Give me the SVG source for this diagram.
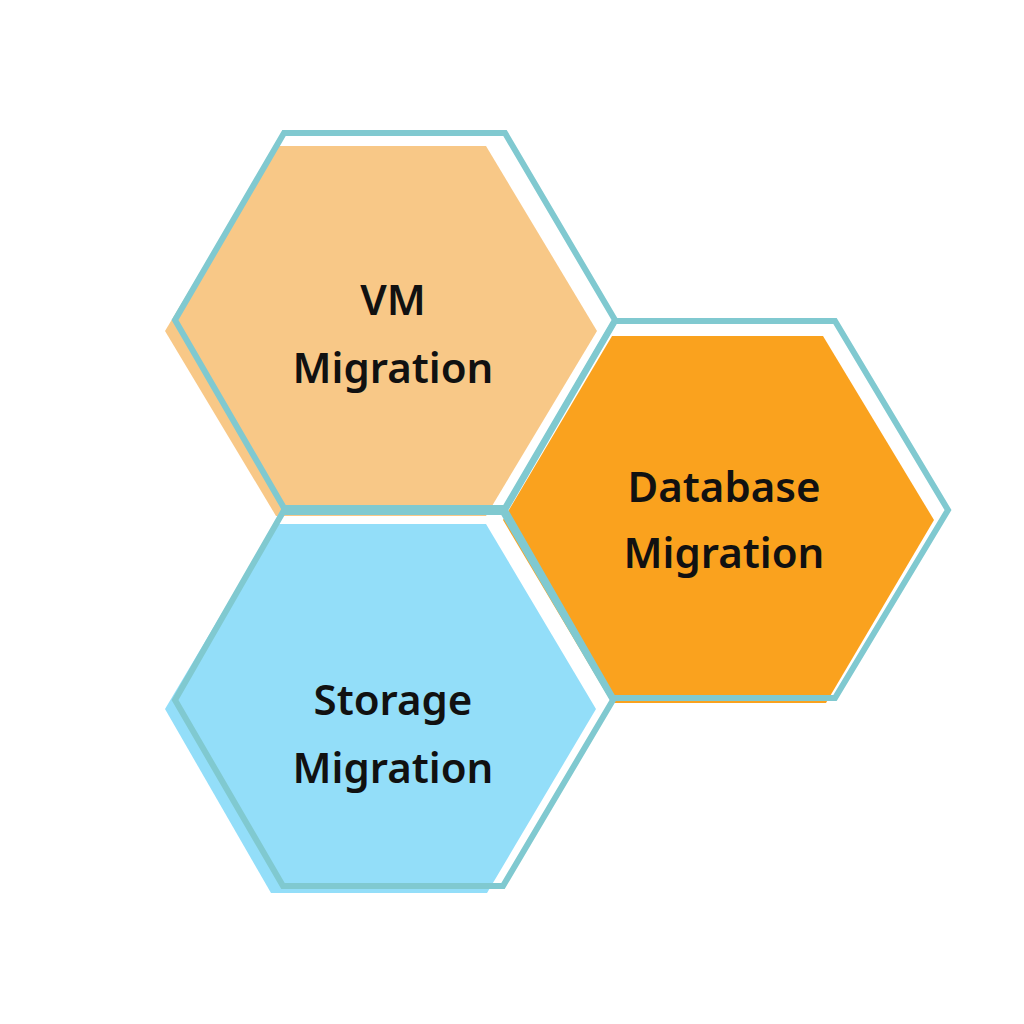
<svg xmlns="http://www.w3.org/2000/svg" width="1024" height="1024" viewBox="0 0 1024 1024">
<style>
.outline{fill:none;stroke:#80C9D0;stroke-width:6;stroke-linejoin:miter}
.lbl{font-family:"Noto Sans","Open Sans",sans-serif;font-weight:600;font-size:42px;fill:#111;text-anchor:middle}
</style>
<rect width="1024" height="1024" fill="#fff"/>
<g id="vm">
<polygon points="165,331 276,146 486,146 597,331 486,516 276,516" fill="#F8C887"/>
<polygon class="outline" points="175,320 284,133 505,133 615,320 505,508 284,508"/>
<text class="lbl" x="393" y="315">VM</text>
<text class="lbl" x="393" y="383">Migration</text>
</g>
<g id="database">
<polygon points="503,520 612,336 823,336 934,520 826,703 612,703" fill="#FAA21E"/>
<polygon class="outline" points="505,510 615,321 835,321 948,510 835,698 613,698"/>
<text class="lbl" x="724" y="502">Database</text>
<text class="lbl" x="724" y="568">Migration</text>
</g>
<g id="storage">
<polygon points="165,709 275,524 486,524 596,709 487,893 271,893" fill="#93DEF9"/>
<polygon class="outline" points="175,700 283,512 503,512 613,700 503,886 283,886"/>
<text class="lbl" x="393" y="715">Storage</text>
<text class="lbl" x="393" y="783">Migration</text>
</g>
<g id="connectors"></g>
</svg>
